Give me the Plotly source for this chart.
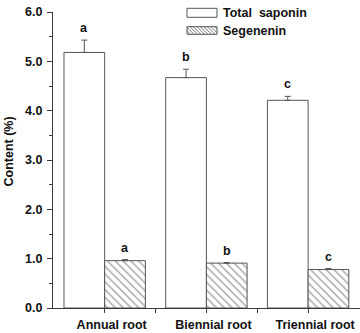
import plotly.graph_objects as go

categories = ["Annual root", "Biennial root", "Triennial root"]
total_saponin = [5.18, 4.67, 4.21]
total_saponin_err = [0.25, 0.17, 0.08]
segenenin = [0.96, 0.91, 0.78]
segenenin_err = [0.02, 0.01, 0.02]
saponin_letters = ["a", "b", "c"]
segenenin_letters = ["a", "b", "c"]
series_names = ["Total\u00a0\u00a0saponin", "Segenenin"]
y_ticks = [0, 1, 2, 3, 4, 5, 6]

FONT = "Arial, 'Liberation Sans', Helvetica, sans-serif"
LINE = "#3a3a3a"
OUT = "#555555"

xpos = list(range(len(categories)))

fig = go.Figure()
fig.add_trace(go.Bar(
    x=xpos, y=total_saponin, name=series_names[0],
    marker=dict(color="white", line=dict(color=OUT, width=1)),
    error_y=dict(type="data", array=total_saponin_err, symmetric=False,
                 arrayminus=[0] * len(categories), color=OUT, thickness=1, width=3),
    showlegend=False,
))
fig.add_trace(go.Bar(
    x=xpos, y=segenenin, name=series_names[1],
    marker=dict(color="white", line=dict(color=OUT, width=1),
                pattern=dict(shape="\\", fgcolor="#444444", bgcolor="white",
                             size=5.5, solidity=0.25)),
    error_y=dict(type="data", array=segenenin_err, symmetric=False,
                 arrayminus=[0] * len(categories), color=OUT, thickness=1, width=3),
    showlegend=False,
))

annotations = []
for i in xpos:
    annotations.append(dict(x=i - 0.2, y=total_saponin[i] + total_saponin_err[i],
                            text="<b>%s</b>" % saponin_letters[i], showarrow=False,
                            yanchor="bottom", yshift=3, font=dict(size=12.5, family=FONT, color="#111")))
    annotations.append(dict(x=i + 0.2, y=segenenin[i] + segenenin_err[i],
                            text="<b>%s</b>" % segenenin_letters[i], showarrow=False,
                            yanchor="bottom", yshift=3, font=dict(size=12.5, family=FONT, color="#111")))

# plot area in pixels: x 53..360, y 12..308
PL, PR, PT, PB = 53, 360, 12, 308
def px_x(p):
    return (p - PL) / (PR - PL)
def px_y(p):
    return (PB - p) / (PB - PT)

annotations.append(dict(x=px_x(8.5), y=px_y(152), xref="paper", yref="paper",
                        xanchor="center", yanchor="middle",
                        text="<b>Content (%)</b>", textangle=-90, showarrow=False,
                        font=dict(size=12.5, family=FONT, color="#111")))

# manual legend
shapes = []
bx0, bx1 = 187, 217
boxes = [(8.3, 17.3), (26.7, 34.3)]
for (y0, y1) in boxes:
    shapes.append(dict(type="rect", xref="paper", yref="paper",
                       x0=px_x(bx0), x1=px_x(bx1), y0=px_y(y1), y1=px_y(y0),
                       line=dict(color=OUT, width=1), fillcolor="white"))
# hatch lines for the second legend box
y0, y1 = boxes[1]
w = bx1 - bx0
h = y1 - y0
k = -h
while k < w:
    sx, sy = k, 0.0
    ex, ey = k + h, h
    if sx < 0:
        sy = -sx
        sx = 0
    if ex > w:
        ey = h - (ex - w)
        ex = w
    if ex > sx:
        shapes.append(dict(type="line", xref="paper", yref="paper",
                           x0=px_x(bx0 + sx), y0=px_y(y0 + sy),
                           x1=px_x(bx0 + ex), y1=px_y(y0 + ey),
                           line=dict(color="#555", width=0.8)))
    k += 3.5

legend_text_y = [12.8, 30.5]
for name, ty in zip(series_names, legend_text_y):
    annotations.append(dict(x=px_x(221), y=px_y(ty), xref="paper", yref="paper",
                            text="<b>%s</b>" % name, showarrow=False, xanchor="left",
                            yanchor="middle", font=dict(size=12.5, family=FONT, color="#111")))

tickvals_x = [-0.5 + 0.5 * j for j in range(1, 6)]
ticktext_x = []
for v in tickvals_x:
    if abs(v - round(v)) < 1e-9:
        ticktext_x.append("<b>%s</b>" % categories[int(round(v))])
    else:
        ticktext_x.append("")

fig.update_layout(
    width=360, height=333,
    margin=dict(l=PL, r=360 - PR, t=PT, b=333 - PB, pad=0),
    paper_bgcolor="white", plot_bgcolor="white",
    barmode="group", bargap=0.2, bargroupgap=0,
    font=dict(family=FONT, color="#111"),
    annotations=annotations, shapes=shapes,
    xaxis=dict(range=[-0.508, 2.51], showline=True, linecolor=LINE, linewidth=1,
               tickvals=tickvals_x, ticktext=ticktext_x, ticks="outside", ticklen=4,
               tickcolor=LINE, showgrid=False, zeroline=False,
               tickfont=dict(size=12.5, family=FONT, color="#111"),
               ticklabelshift=7, ticklabelstandoff=1),
    yaxis=dict(range=[0, 6], showline=True, linecolor=LINE, linewidth=1,
               tickvals=y_ticks, ticktext=["<b>%.1f</b>" % v for v in y_ticks],
               ticks="outside", ticklen=5, tickcolor=LINE, showgrid=False, zeroline=False,
               tickfont=dict(size=12.5, family=FONT, color="#111"),
               minor=dict(dtick=0.5, ticks="outside", ticklen=3, tickcolor=LINE),
               ticklabelstandoff=2),
)

fig.write_html("out.html")
